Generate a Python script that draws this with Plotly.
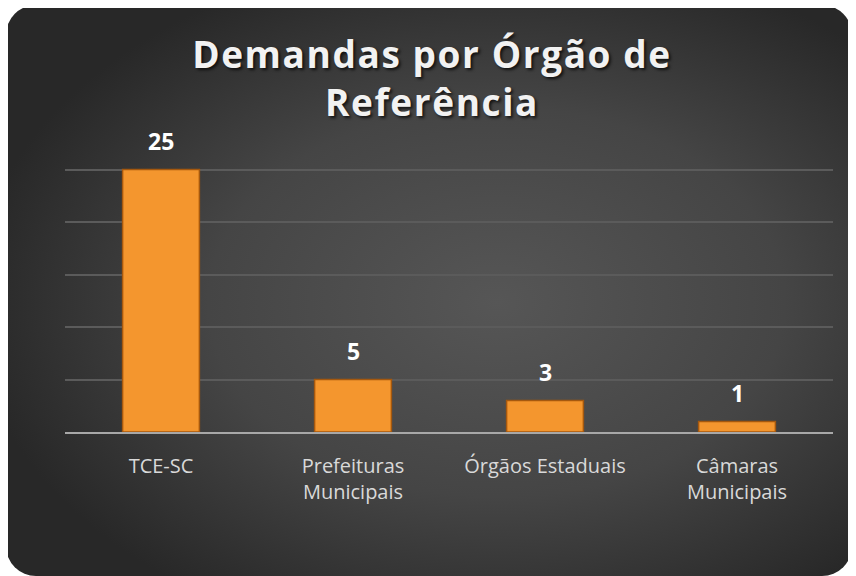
import base64
import plotly.graph_objects as go

categories = ["TCE-SC", "Prefeituras<br>Municipais", "Órgãos Estaduais", "Câmaras<br>Municipais"]
values = [25, 5, 3, 1]
y_ticks = [0, 5, 10, 15, 20, 25, 30]

# page body has an 8px margin, so the figure is drawn 8px smaller and offset
OFF = 8
W, H = 856 - OFF, 576 - OFF
L, T = 65 - OFF, 117 - OFF
R, B = W - (833 - OFF), H - (432 - OFF)
pw, ph = W - L - R, H - T - B

# rounded dark card with radial gradient, used as background image
svg = """<svg xmlns='http://www.w3.org/2000/svg' width='846' height='571' viewBox='0 0 846 571' preserveAspectRatio='none'>
<defs><radialGradient id='g' cx='0.58' cy='0.52' r='0.62'>
<stop offset='0' stop-color='#565656'/><stop offset='0.55' stop-color='#454545'/><stop offset='1' stop-color='#282828'/>
</radialGradient></defs>
<rect x='0' y='0' width='846' height='571' rx='30' ry='30' fill='url(#g)'/>
</svg>"""
bg = "data:image/svg+xml;base64," + base64.b64encode(svg.encode()).decode()

fig = go.Figure(go.Bar(
    x=categories, y=values,
    marker=dict(color="#F4962E", line=dict(color="#A5580E", width=1.5)),
    width=0.4,
))

for c, v in zip(categories, values):
    fig.add_annotation(x=c, y=v, text="<b>%d</b>" % v, showarrow=False,
                       yanchor="bottom", yshift=11,
                       font=dict(family="Open Sans", size=23, color="#ffffff"))

fig.add_layout_image(dict(
    source=bg, xref="paper", yref="paper",
    x=(6 - OFF - L) / pw, y=(H - B - (5 - OFF)) / ph,
    sizex=846 / pw, sizey=571 / ph,
    sizing="stretch", xanchor="left", yanchor="top", layer="below",
))

title = ('<b><span style="letter-spacing:1.6px">Demandas por Órgão de</span><br>'
         '<span style="letter-spacing:1.6px">Referência</span></b>')

fig.update_layout(
    width=W, height=H,
    margin=dict(l=L, r=R, t=T, b=B),
    paper_bgcolor="#ffffff", plot_bgcolor="rgba(0,0,0,0)",
    showlegend=False,
    title=dict(text=title,
               x=0.5, xanchor="center", y=0.894, yanchor="top",
               font=dict(family="Open Sans", size=37, color="#f2f2f2",
                         shadow="2px 2px 3px rgba(0,0,0,0.7)")),
    font=dict(family="Open Sans"),
)
fig.update_xaxes(showgrid=False, showline=True, linecolor="#a8a8a8", linewidth=2,
                 tickfont=dict(size=20, color="#d9d9d9"), ticklabelstandoff=15,
                 fixedrange=True)
fig.update_yaxes(range=[0, 30], tickvals=y_ticks, showticklabels=False,
                 showgrid=True, gridcolor="#5b5b5b", gridwidth=1.5,
                 zeroline=False, fixedrange=True)

fig.write_html("out.html")
